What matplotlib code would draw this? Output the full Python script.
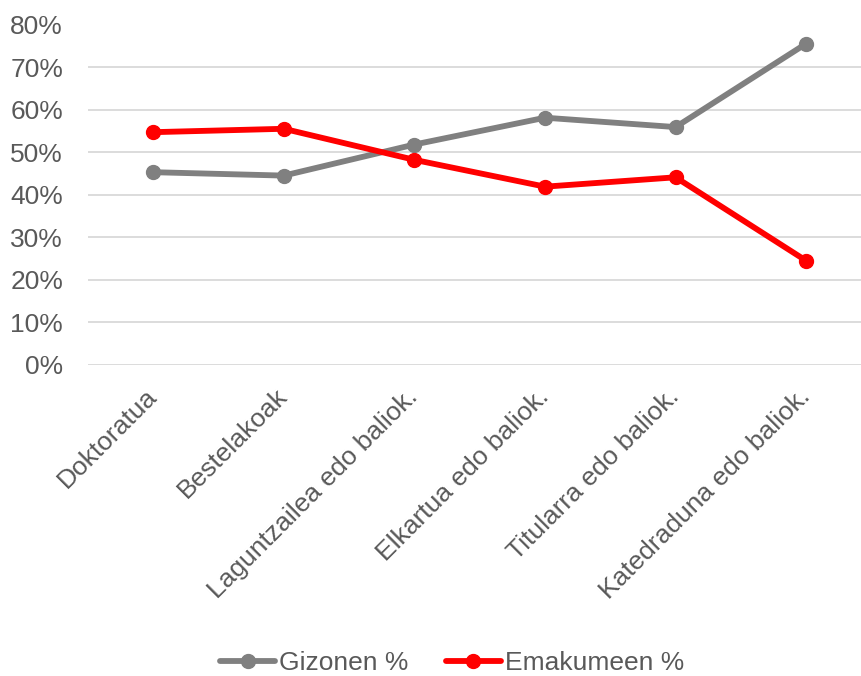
import matplotlib
matplotlib.use("Agg")
import matplotlib.pyplot as plt
from matplotlib.ticker import FuncFormatter, MultipleLocator

plt.rcParams['font.family'] = ['Liberation Sans', 'DejaVu Sans']

categories = ["Doktoratua", "Bestelakoak", "Laguntzailea edo baliok.",
              "Elkartua edo baliok.", "Titularra edo baliok.", "Katedraduna edo baliok."]
gizonen = [45.3, 44.5, 51.8, 58.1, 55.9, 75.5]
emakumeen = [54.7, 55.5, 48.2, 41.9, 44.1, 24.5]

text_color = "#595959"

fig = plt.figure(figsize=(8.61, 6.76), dpi=100)
ax = fig.add_axes([88 / 861, 1 - 365 / 676, 1 - 88 / 861, (365 - 24.5) / 676])

x = list(range(len(categories)))
ax.plot(x, gizonen, color="#808080", lw=4.2, marker="o", ms=10, label="Gizonen %",
        solid_capstyle="round", zorder=3)
ax.plot(x, emakumeen, color="#FF0000", lw=4.2, marker="o", ms=10, label="Emakumeen %",
        solid_capstyle="round", zorder=3)

ax.set_ylim(0, 80)
ax.set_xlim(-0.5, 5.42)
ax.yaxis.set_major_locator(MultipleLocator(10))
ax.yaxis.set_major_formatter(FuncFormatter(lambda v, p: f"{v:.0f}%"))
ax.grid(axis="y", color="#d9d9d9", lw=1.3, zorder=0)
for s in ax.spines.values():
    s.set_visible(False)
ax.tick_params(axis="both", length=0, labelsize=19, colors=text_color)
ax.tick_params(axis="x", pad=20)
ax.tick_params(axis="y", pad=18)

ax.set_xticks(x)
ax.set_xticklabels(categories, rotation=45, ha="right", rotation_mode="anchor",
                   va="center")

fig.legend(loc="center", bbox_to_anchor=(452 / 861, 1 - 663 / 676), ncol=2, frameon=False,
           fontsize=19, labelcolor=text_color, handlelength=2.1, handletextpad=0.15,
           columnspacing=1.4)

fig.savefig("out.png", dpi=100)
